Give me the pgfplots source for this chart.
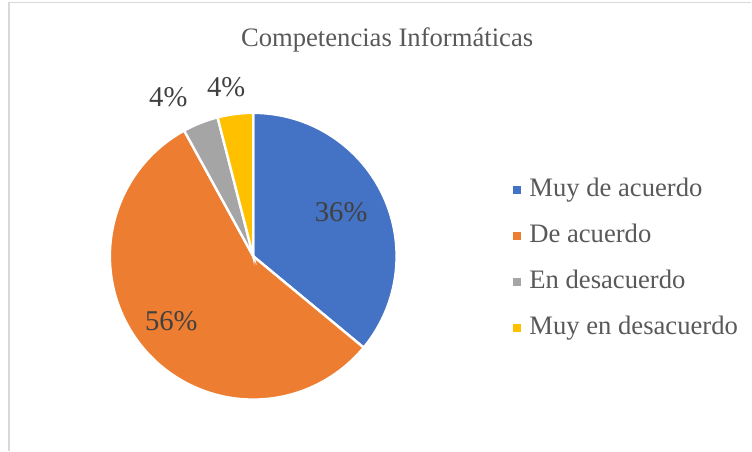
\documentclass[border=0pt]{standalone}
\usepackage{pgfplots}
\pgfplotsset{compat=1.18}
\usepackage{fontspec}
\setmainfont{Liberation Serif}

\definecolor{cblue}{HTML}{4472C4}
\definecolor{corange}{HTML}{ED7D31}
\definecolor{cgray}{HTML}{A5A5A5}
\definecolor{cyellow}{HTML}{FFC000}
\definecolor{ctext}{HTML}{595959}
\definecolor{clabel}{HTML}{404040}
\definecolor{cborder}{HTML}{D9D9D9}

% shares in percent
\def\vA{36}\def\vB{56}\def\vC{4}\def\vD{4}
\pgfmathsetmacro\aA{90}
\pgfmathsetmacro\aB{\aA-3.6*\vA}
\pgfmathsetmacro\aC{\aB-3.6*\vB}
\pgfmathsetmacro\aD{\aC-3.6*\vC}
\pgfmathsetmacro\aE{\aD-3.6*\vD}
\def\cx{253.5}\def\cy{194.5}\def\rr{143.5}

\begin{document}
\begin{tikzpicture}
\begin{axis}[
    width=564pt, height=338.25pt,
    scale only axis,
    xmin=0, xmax=752, ymin=0, ymax=451,
    hide axis,
    clip=false,
    legend cell align=left,
    legend image code/.code={\fill[#1,draw=none] (0pt,-3pt) rectangle (6pt,3pt);},
    legend style={at={(axis cs:513,276)}, anchor=north west, draw=none, fill=none,
        font=\fontsize{20}{24}\selectfont, text=ctext, row sep=12pt, inner sep=0pt,
        nodes={inner sep=2pt, text height=14pt, text depth=4.5pt},
        /tikz/every odd column/.append style={column sep=4.5pt}},
]
% frame
\addplot[forget plot, draw=none] coordinates {(0,0) (752,451)};
\addplot[forget plot, cborder, line width=1.2pt] coordinates {(9,0) (9,448.5) (752,448.5)};

% slices
\addplot[fill=cblue, draw=white, line width=1.8pt, domain=\aB:\aA, samples=90, variable=\t]
    ({\cx+\rr*cos(t)},{\cy+\rr*sin(t)}) -- (axis cs:\cx,\cy) -- cycle;
\addlegendentry{Muy de acuerdo}
\addplot[fill=corange, draw=white, line width=1.8pt, domain=\aC:\aB, samples=120, variable=\t]
    ({\cx+\rr*cos(t)},{\cy+\rr*sin(t)}) -- (axis cs:\cx,\cy) -- cycle;
\addlegendentry{De acuerdo}
\addplot[fill=cgray, draw=white, line width=1.8pt, domain=\aD:\aC, samples=20, variable=\t]
    ({\cx+\rr*cos(t)},{\cy+\rr*sin(t)}) -- (axis cs:\cx,\cy) -- cycle;
\addlegendentry{En desacuerdo}
\addplot[fill=cyellow, draw=white, line width=1.8pt, domain=\aE:\aD, samples=20, variable=\t]
    ({\cx+\rr*cos(t)},{\cy+\rr*sin(t)}) -- (axis cs:\cx,\cy) -- cycle;
\addlegendentry{Muy en desacuerdo}

% title and data labels
\node[anchor=base, text=ctext, font=\fontsize{20}{24}\selectfont] at (axis cs:387.5,404) {Competencias Informáticas};
\node[anchor=base, text=clabel, font=\fontsize{21.5}{26}\selectfont] at (axis cs:341.5,229) {36\%};
\node[anchor=base, text=clabel, font=\fontsize{21.5}{26}\selectfont] at (axis cs:171.5,120) {56\%};
\node[anchor=base, text=clabel, font=\fontsize{21.5}{26}\selectfont] at (axis cs:168.5,344) {4\%};
\node[anchor=base, text=clabel, font=\fontsize{21.5}{26}\selectfont] at (axis cs:226.5,354) {4\%};
\end{axis}
\end{tikzpicture}
\end{document}
